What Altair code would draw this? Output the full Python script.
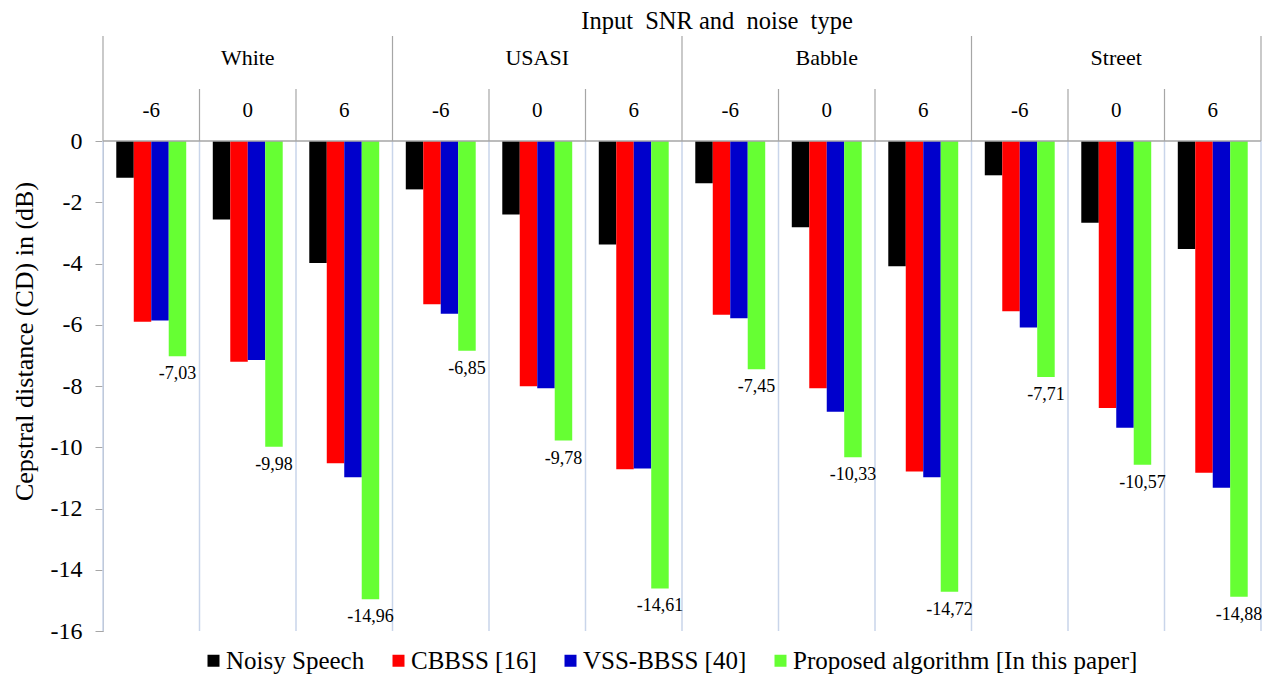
import altair as alt
import pandas as pd

# Conditions: noise type x input SNR (dB)
noise_types = ["White", "USASI", "Babble", "Street"]
snr_levels = ["-6", "0", "6"]

methods = ["Noisy Speech", "CBBSS [16]", "VSS-BBSS [40]", "Proposed algorithm [In this paper]"]
method_colors = ["#000000", "#ff0000", "#0000cc", "#66ff33"]

# Cepstral distance (dB), one value per condition in noise/SNR order
noisy_speech = [-1.20, -2.56, -3.98, -1.58, -2.40, -3.38, -1.38, -2.82, -4.09, -1.12, -2.67, -3.53]
cbbss = [-5.90, -7.21, -10.52, -5.33, -8.01, -10.72, -5.67, -8.07, -10.79, -5.56, -8.72, -10.83]
vss_bbss = [-5.86, -7.15, -10.98, -5.64, -8.07, -10.69, -5.79, -8.84, -10.98, -6.09, -9.36, -11.32]
proposed = [-7.03, -9.98, -14.96, -6.85, -9.78, -14.61, -7.45, -10.33, -14.72, -7.71, -10.57, -14.88]

y_ticks = list(range(-16, 1, 2))

SERIF = "Liberation Serif"
GRAY = "#a6a6a6"
W, H = 1158, 490

conds = [f"{n} {s}" for n in noise_types for s in snr_levels]
cond_df = pd.DataFrame({
    "cond": conds,
    "noise": [n for n in noise_types for s in snr_levels],
    "snr": [s for n in noise_types for s in snr_levels],
})

rows = []
for m, series in zip(methods, [noisy_speech, cbbss, vss_bbss, proposed]):
    for c, v in zip(conds, series):
        rows.append({"cond": c, "method": m, "value": v,
                     "label": f"{v:.2f}".replace(".", ",")})
bars_df = pd.DataFrame(rows)

xscale = alt.Scale(domain=conds, paddingInner=0, paddingOuter=0)
xoff = alt.XOffset("method:N", sort=methods,
                   scale=alt.Scale(domain=methods, paddingInner=0, paddingOuter=0.76))
yscale = alt.Scale(domain=[-16, 0], nice=False)

# light vertical separators inside the plot
grid = alt.Chart(cond_df).mark_rule(color="#c9d5ea", strokeWidth=1.5).encode(
    x=alt.X("cond:N", bandPosition=0, scale=xscale, axis=None),
    y=alt.value(0), y2=alt.value(H),
)
grid_end = alt.Chart(cond_df.tail(1)).mark_rule(color="#c9d5ea", strokeWidth=1.5).encode(
    x=alt.X("cond:N", bandPosition=1, scale=xscale, axis=None),
    y=alt.value(0), y2=alt.value(H),
)

bars = alt.Chart(bars_df).mark_bar().encode(
    x=alt.X("cond:N", scale=xscale, axis=None),
    xOffset=xoff,
    y=alt.Y("value:Q", scale=yscale, axis=alt.Axis(
        values=y_ticks, grid=False, domainColor=GRAY, tickColor=GRAY, tickSize=8,
        labelFont=SERIF, labelFontSize=24, labelColor="black", labelPadding=13,
        labelExpr="'' + datum.value",
        title="Cepstral distance (CD) in (dB)", titleFont=SERIF, titleFontSize=26,
        titleFontWeight="normal", titleColor="black", titleAngle=270,
        titleX=-71, titleY=200, titleAlign="center", titleBaseline="alphabetic")),
    color=alt.Color("method:N", sort=methods,
                    scale=alt.Scale(domain=methods, range=method_colors),
                    legend=alt.Legend(orient="none", legendX=98, legendY=507,
                                      direction="horizontal", title=None,
                                      symbolType="square", symbolSize=144,
                                      symbolStrokeWidth=0, labelFont=SERIF,
                                      labelFontSize=25, labelColor="black",
                                      labelLimit=600, columnPadding=21,
                                      labelOffset=0)),
)

zero_line = alt.Chart(pd.DataFrame({"v": [0]})).mark_rule(color=GRAY, strokeWidth=1.5).encode(
    y=alt.Y("v:Q", scale=yscale), x=alt.value(0), x2=alt.value(W),
)

value_labels = alt.Chart(bars_df[bars_df["method"] == methods[-1]]).mark_text(
    baseline="top", dy=9, font=SERIF, fontSize=18, color="black").encode(
    x=alt.X("cond:N", scale=xscale, axis=None),
    xOffset=xoff,
    y=alt.Y("value:Q", scale=yscale),
    text="label:N",
)

snr_labels = alt.Chart(cond_df).mark_text(
    baseline="alphabetic", font=SERIF, fontSize=21, color="black").encode(
    x=alt.X("cond:N", scale=xscale, axis=None),
    y=alt.value(-24), text="snr:N",
)

noise_labels = alt.Chart(cond_df[cond_df["snr"] == "0"]).mark_text(
    baseline="alphabetic", font=SERIF, fontSize=22, color="black").encode(
    x=alt.X("cond:N", scale=xscale, axis=None),
    y=alt.value(-76), text="noise:N",
)

snr_sep = alt.Chart(cond_df[cond_df["snr"] != "-6"]).mark_rule(color=GRAY, strokeWidth=1.2).encode(
    x=alt.X("cond:N", bandPosition=0, scale=xscale, axis=None),
    y=alt.value(-52), y2=alt.value(0),
)
noise_sep = alt.Chart(cond_df[cond_df["snr"] == "-6"]).mark_rule(color=GRAY, strokeWidth=1.2).encode(
    x=alt.X("cond:N", bandPosition=0, scale=xscale, axis=None),
    y=alt.value(-105), y2=alt.value(0),
)
noise_sep_end = alt.Chart(cond_df.tail(1)).mark_rule(color=GRAY, strokeWidth=1.2).encode(
    x=alt.X("cond:N", bandPosition=1, scale=xscale, axis=None),
    y=alt.value(-105), y2=alt.value(0),
)

header = alt.Chart(pd.DataFrame({"t": ["Input\u00a0 SNR and\u00a0 noise\u00a0 type"]})).mark_text(
    baseline="alphabetic", font=SERIF, fontSize=24.5, color="black").encode(
    x=alt.value(614), y=alt.value(-112), text="t:N",
)

chart = alt.layer(
    grid, grid_end, bars, zero_line, value_labels,
    snr_labels, noise_labels, snr_sep, noise_sep, noise_sep_end, header,
).properties(
    width=W, height=H,
    autosize=alt.AutoSizeParams(type="none"),
    padding={"left": 103, "top": 141, "right": 1, "bottom": 43},
).configure_view(strokeWidth=0)

chart.save("out.html", embed_options={"renderer": "svg", "actions": False})
